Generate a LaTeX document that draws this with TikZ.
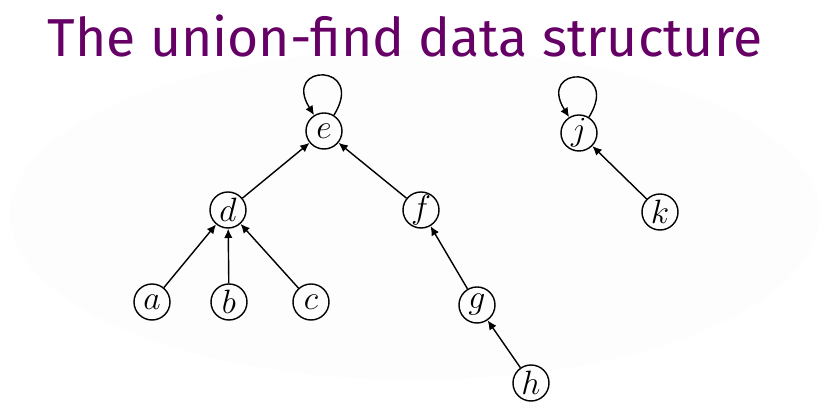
\documentclass[tikz,border=0pt]{standalone}
\usepackage{fontspec}
\usepackage{tikz}
\usetikzlibrary{arrows.meta,positioning,calc}
\newfontfamily\titlefont{Fira Sans}
\definecolor{Plum}{HTML}{660066}
\definecolor{Haze}{HTML}{FDFDFD}
\begin{document}
\begin{tikzpicture}[x=0.0125cm,y=-0.0125cm,
  vtx/.style={circle,draw,line width=.5pt,minimum size=0.45cm,inner sep=0pt,font=\large},
  arr/.style={-{Latex[length=3.3pt,width=3pt]},line width=.5pt},
  selfloop/.style={arr,out=58,in=122,looseness=8,min distance=0.68cm}]
  \useasboundingbox (0,0) rectangle (831,409);
  \fill[Haze] (415,215) ellipse [x radius=405, y radius=165];
  \node[font=\titlefont\fontsize{19}{22}\selectfont,text=Plum] (title) at (405,36)
    {The union-find data structure};
  % first tree
  \node[vtx] (e) at (324,131) {$e$};
  \node[vtx] (d) at (228,210) {$d$};
  \node[vtx] (f) at (421,210) {$f$};
  \node[vtx] (a) at (152,302) {$a$};
  \node[vtx] (b) at (229,302) {$b$};
  \node[vtx] (c) at (311,302) {$c$};
  \node[vtx] (g) at (477,305) {$g$};
  \node[vtx] (h) at (531,383) {$h$};
  % second tree
  \node[vtx] (j) at (579,133) {$j$};
  \node[vtx] (k) at (660,212) {$k$};
  \draw[selfloop] (e) to (e);
  \draw[selfloop] (j) to (j);
  \draw[arr] (d) -- (e);
  \draw[arr] (f) -- (e);
  \draw[arr] (a) -- (d);
  \draw[arr] (b) -- (d);
  \draw[arr] (c) -- (d);
  \draw[arr] (g) -- (f);
  \draw[arr] (h) -- (g);
  \draw[arr] (k) -- (j);
\end{tikzpicture}
\end{document}
